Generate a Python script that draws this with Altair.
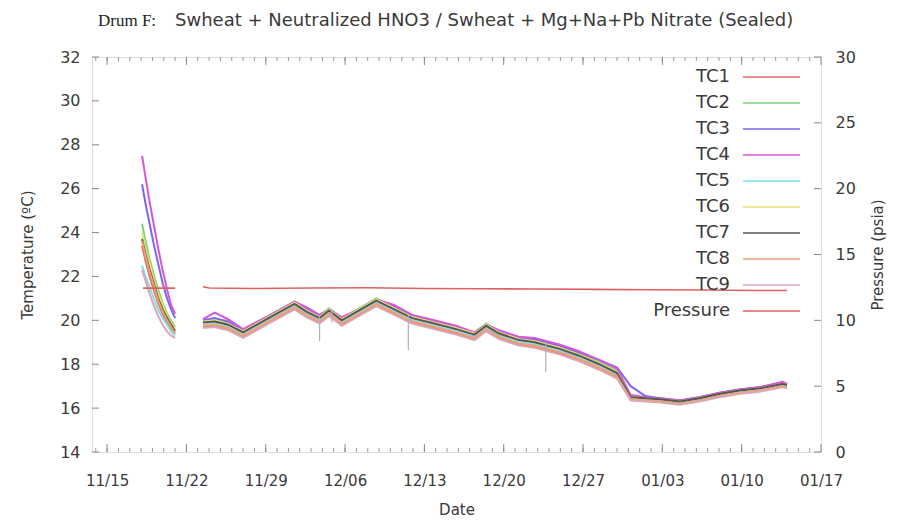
import altair as alt
import pandas as pd

# ---------------- data ----------------
series_names = ["TC1", "TC2", "TC3", "TC4", "TC5", "TC6", "TC7", "TC8", "TC9", "Pressure"]
series_colors = ["#e06666", "#7fcf7f", "#7b68ee", "#d855d8", "#7fe0e8",
                 "#e8e070", "#555555", "#f0a070", "#d8a8b8", "#e06060"]

seg1_dates = ["2014-11-18 02:00", "2014-11-18 09:30", "2014-11-18 18:00", "2014-11-19 02:30",
              "2014-11-19 12:00", "2014-11-19 21:30", "2014-11-20 07:00", "2014-11-20 15:30",
              "2014-11-21 00:00"]
seg1_values = {
    "TC1": [23.4, 22.7, 22.0, 21.4, 20.8, 20.3, 19.9, 19.6, 19.4],
    "TC2": [24.4, 23.6, 22.8, 22.1, 21.4, 20.8, 20.3, 20.0, 19.7],
    "TC3": [26.2, 25.3, 24.4, 23.5, 22.6, 21.7, 21.0, 20.5, 20.1],
    "TC4": [27.5, 26.5, 25.4, 24.4, 23.3, 22.3, 21.4, 20.7, 20.3],
    "TC5": [22.5, 22.0, 21.5, 21.0, 20.5, 20.1, 19.8, 19.5, 19.3],
    "TC6": [24.0, 23.3, 22.6, 21.9, 21.2, 20.7, 20.2, 19.9, 19.6],
    "TC7": [23.7, 23.0, 22.3, 21.7, 21.0, 20.5, 20.1, 19.8, 19.5],
    "TC8": [23.6, 22.9, 22.2, 21.6, 20.9, 20.4, 20.0, 19.7, 19.4],
    "TC9": [22.3, 21.8, 21.2, 20.7, 20.2, 19.8, 19.5, 19.3, 19.2],
}

seg2_dates = ["2014-11-23 11:00", "2014-11-24 12:00", "2014-11-25 16:00", "2014-11-27 00:00",
              "2014-11-29 06:00", "2014-12-01 13:00", "2014-12-02 14:00", "2014-12-03 18:00",
              "2014-12-04 14:00", "2014-12-05 17:00", "2014-12-07 06:00", "2014-12-08 18:00",
              "2014-12-10 08:00", "2014-12-11 22:00", "2014-12-13 12:00", "2014-12-15 19:00",
              "2014-12-17 10:00", "2014-12-18 11:00", "2014-12-19 14:00", "2014-12-21 08:00",
              "2014-12-22 17:00", "2014-12-24 22:00", "2014-12-26 14:00", "2014-12-28 10:00",
              "2014-12-30 00:00", "2014-12-31 05:00", "2015-01-01 12:00", "2015-01-02 19:00",
              "2015-01-04 13:00", "2015-01-06 07:00", "2015-01-08 02:00", "2015-01-09 20:00",
              "2015-01-11 14:00", "2015-01-13 14:00", "2015-01-14 00:00"]
seg2_values = {
    "TC1": [19.7, 19.75, 19.6, 19.25, 19.9, 20.55, 20.2, 19.9, 20.25, 19.8, 20.25, 20.7, 20.3, 19.9,
            19.7, 19.4, 19.15, 19.55, 19.2, 18.9, 18.8, 18.5, 18.2, 17.8, 17.4, 16.4, 16.35, 16.3,
            16.2, 16.35, 16.55, 16.7, 16.8, 17.0, 16.95],
    "TC2": [20.0, 20.05, 19.9, 19.55, 20.2, 20.85, 20.5, 20.2, 20.55, 20.1, 20.55, 21.0, 20.6, 20.2,
            20.0, 19.7, 19.45, 19.85, 19.5, 19.2, 19.1, 18.8, 18.5, 18.1, 17.7, 16.55, 16.5, 16.45,
            16.35, 16.5, 16.7, 16.85, 16.95, 17.15, 17.1],
    "TC3": [20.0, 20.1, 19.95, 19.55, 20.15, 20.8, 20.55, 20.2, 20.5, 20.1, 20.5, 20.95, 20.65, 20.2,
            20.0, 19.7, 19.4, 19.8, 19.5, 19.2, 19.15, 18.85, 18.55, 18.2, 17.85, 17.0, 16.55, 16.45,
            16.35, 16.5, 16.7, 16.85, 16.95, 17.15, 17.1],
    "TC4": [20.05, 20.35, 20.05, 19.6, 20.2, 20.85, 20.6, 20.25, 20.5, 20.15, 20.5, 20.95, 20.7, 20.25,
            20.05, 19.75, 19.45, 19.8, 19.55, 19.25, 19.2, 18.9, 18.6, 18.2, 17.8, 16.6, 16.5, 16.45,
            16.35, 16.5, 16.7, 16.85, 16.95, 17.2, 17.1],
    "TC5": [19.8, 19.85, 19.7, 19.35, 20.0, 20.65, 20.3, 20.0, 20.35, 19.9, 20.35, 20.8, 20.4, 20.0,
            19.8, 19.5, 19.25, 19.65, 19.3, 19.0, 18.9, 18.6, 18.3, 17.9, 17.5, 16.45, 16.4, 16.35,
            16.25, 16.4, 16.6, 16.75, 16.85, 17.05, 17.0],
    "TC6": [19.95, 20.0, 19.85, 19.5, 20.15, 20.8, 20.45, 20.15, 20.5, 20.05, 20.5, 20.95, 20.55, 20.15,
            19.95, 19.65, 19.4, 19.8, 19.45, 19.15, 19.05, 18.75, 18.45, 18.05, 17.65, 16.5, 16.45, 16.4,
            16.3, 16.45, 16.65, 16.8, 16.9, 17.1, 17.05],
    "TC7": [19.9, 19.95, 19.8, 19.45, 20.1, 20.75, 20.4, 20.1, 20.45, 20.0, 20.45, 20.9, 20.5, 20.1,
            19.9, 19.6, 19.35, 19.75, 19.4, 19.1, 19.0, 18.7, 18.4, 18.0, 17.6, 16.5, 16.45, 16.4,
            16.3, 16.45, 16.65, 16.8, 16.9, 17.1, 17.05],
    "TC8": [19.75, 19.8, 19.65, 19.3, 19.95, 20.6, 20.25, 19.95, 20.3, 19.85, 20.3, 20.75, 20.35, 19.95,
            19.75, 19.45, 19.2, 19.6, 19.25, 18.95, 18.85, 18.55, 18.25, 17.85, 17.45, 16.4, 16.35, 16.3,
            16.2, 16.35, 16.55, 16.7, 16.8, 17.0, 16.95],
    "TC9": [19.65, 19.7, 19.55, 19.2, 19.85, 20.5, 20.15, 19.85, 20.2, 19.75, 20.2, 20.65, 20.25, 19.85,
            19.65, 19.35, 19.1, 19.5, 19.15, 18.85, 18.75, 18.45, 18.15, 17.75, 17.35, 16.35, 16.3, 16.25,
            16.15, 16.3, 16.5, 16.65, 16.75, 16.95, 16.9],
}

spike_dates = ["2014-12-03 18:00", "2014-12-04 20:00", "2014-12-11 14:00", "2014-12-23 17:00"]
spike_top = [20.15, 20.45, 20.3, 19.0]
spike_bottom = [19.05, 19.9, 18.65, 17.65]

pres_seg1_dates = ["2014-11-18 04:00", "2014-11-19 12:00", "2014-11-21 00:00"]
pres_seg1_values = [12.45, 12.45, 12.45]
pres_seg2_dates = ["2014-11-23 11:00", "2014-11-24 00:00", "2014-11-28 00:00", "2014-12-03 00:00",
                   "2014-12-08 00:00", "2014-12-13 00:00", "2014-12-18 00:00", "2014-12-23 00:00",
                   "2014-12-28 00:00", "2015-01-02 00:00", "2015-01-07 00:00", "2015-01-11 00:00",
                   "2015-01-14 00:00"]
pres_seg2_values = [12.55, 12.45, 12.42, 12.45, 12.47, 12.42, 12.4, 12.38, 12.35, 12.32, 12.3, 12.27, 12.27]

temp_ticks = [14, 16, 18, 20, 22, 24, 26, 28, 30, 32]
pres_ticks = [0, 5, 10, 15, 20, 25, 30]
week_labels = ["2014-11-15", "2014-11-22", "2014-11-29", "2014-12-06", "2014-12-13",
               "2014-12-20", "2014-12-27", "2015-01-03", "2015-01-10", "2015-01-17"]
x_start = "2014-11-13 16:00"
x_end = "2015-01-17 00:00"

title_left = "Drum F:"
title_main = "Swheat + Neutralized HNO3 / Swheat + Mg+Na+Pb Nitrate (Sealed)"

# ---------------- tables ----------------
rows = []
for name in series_names[:9]:
    for d, v in zip(seg1_dates, seg1_values[name]):
        rows.append({"date": d, "value": v, "series": name, "seg": 1})
    for d, v in zip(seg2_dates, seg2_values[name]):
        rows.append({"date": d, "value": v, "series": name, "seg": 2})
temp_df = pd.DataFrame(rows)
temp_df["date"] = pd.to_datetime(temp_df["date"])

prow = []
for d, v in zip(pres_seg1_dates, pres_seg1_values):
    prow.append({"date": d, "value": v, "series": "Pressure", "seg": 1})
for d, v in zip(pres_seg2_dates, pres_seg2_values):
    prow.append({"date": d, "value": v, "series": "Pressure", "seg": 2})
pres_df = pd.DataFrame(prow)
pres_df["date"] = pd.to_datetime(pres_df["date"])

spike_df = pd.DataFrame({"date": pd.to_datetime(spike_dates), "top": spike_top, "bottom": spike_bottom})

def dt(s):
    t = pd.Timestamp(s)
    return alt.DateTime(year=t.year, month=t.month, date=t.day, hours=t.hour, minutes=t.minute)

W, H = 729, 395
FONT = "DejaVu Sans"
TXT = "#3a3a3a"

xscale = alt.Scale(domain=[dt(x_start), dt(x_end)])
color_scale = alt.Scale(domain=series_names, range=series_colors)

x_axis = alt.Axis(values=[dt(s) for s in week_labels], format="%m/%d", ticks=False, domain=False,
                  grid=False, labelFont=FONT, labelFontSize=15, labelColor=TXT, labelPadding=21,
                  labelFlush=False, title="Date", titleFont=FONT, titleFontSize=15,
                  titleFontWeight="normal", titleColor=TXT, titlePadding=14)
temp_axis = alt.Axis(values=temp_ticks, ticks=False, domain=False, grid=False, orient="left",
                     labelFont=FONT, labelFontSize=16, labelColor=TXT, labelPadding=12,
                     title="Temperature (ºC)", titleFont=FONT, titleFontSize=15,
                     titleFontWeight="normal", titleColor=TXT, titlePadding=24)
pres_axis = alt.Axis(values=pres_ticks, ticks=False, domain=False, grid=False, orient="right",
                     labelFont=FONT, labelFontSize=16, labelColor=TXT, labelPadding=14,
                     title="Pressure (psia)", titleFont=FONT, titleFontSize=15, titleAngle=270,
                     titleFontWeight="normal", titleColor=TXT, titlePadding=30)

temp_y = alt.Scale(domain=[14, 32], nice=False, zero=False)
pres_y = alt.Scale(domain=[0, 30], nice=False, zero=False)

temp_lines = alt.Chart(temp_df).mark_line(strokeWidth=2, clip=True).encode(
    x=alt.X("date:T", scale=xscale, axis=x_axis),
    y=alt.Y("value:Q", scale=temp_y, axis=temp_axis),
    color=alt.Color("series:N", scale=color_scale, legend=None),
    detail="seg:N",
)

spikes = alt.Chart(spike_df).mark_rule(color="#b8a8c0", strokeWidth=1.2).encode(
    x=alt.X("date:T", scale=xscale, axis=x_axis),
    y=alt.Y("top:Q", scale=temp_y, axis=temp_axis),
    y2="bottom:Q",
)

ttick_df = pd.DataFrame({"v": temp_ticks})
left_ticks = alt.Chart(ttick_df).mark_rule(color="#888", strokeWidth=1).encode(
    y=alt.Y("v:Q", scale=temp_y, axis=temp_axis), x=alt.value(0), x2=alt.value(7))

day_df = pd.DataFrame({"d": pd.date_range("2014-11-14", "2015-01-16", freq="D")})
week_df = pd.DataFrame({"d": pd.to_datetime(week_labels)})

def xrule(df, y0, y1, col):
    return alt.Chart(df).mark_rule(color=col, strokeWidth=1).encode(
        x=alt.X("d:T", scale=xscale, axis=x_axis), y=alt.value(y0), y2=alt.value(y1))

minor_bot = xrule(day_df, H, H - 4, "#999")
minor_top = xrule(day_df, 0, 4, "#999")
major_bot = xrule(week_df, H, H - 8, "#888")
major_top = xrule(week_df, 0, 8, "#888")

temp_group = alt.layer(temp_lines, spikes, left_ticks, minor_bot, minor_top, major_bot, major_top)

pres_line = alt.Chart(pres_df).mark_line(strokeWidth=1.6).encode(
    x=alt.X("date:T", scale=xscale, axis=x_axis),
    y=alt.Y("value:Q", scale=pres_y, axis=pres_axis),
    color=alt.Color("series:N", scale=color_scale, legend=None),
    detail="seg:N",
)
ptick_df = pd.DataFrame({"v": pres_ticks})
right_ticks = alt.Chart(ptick_df).mark_rule(color="#888", strokeWidth=1).encode(
    y=alt.Y("v:Q", scale=pres_y, axis=pres_axis), x=alt.value(W - 7), x2=alt.value(W))
pres_group = alt.layer(pres_line, right_ticks)

leg_df = pd.DataFrame({"series": series_names})
leg_y = alt.Y("series:N", scale=alt.Scale(type="point", domain=series_names, range=[20, 254], padding=0),
              axis=None)
leg_lines = alt.Chart(leg_df).mark_rule(strokeWidth=1.5).encode(
    y=leg_y, x=alt.value(651), x2=alt.value(708),
    color=alt.Color("series:N", scale=color_scale, legend=None))
leg_text = alt.Chart(leg_df).mark_text(align="right", baseline="middle", font=FONT, fontSize=18,
                                       color=TXT).encode(
    y=leg_y, x=alt.value(638), text="series:N")
legend_group = alt.layer(leg_lines, leg_text)

t1 = alt.Chart(pd.DataFrame({"t": [title_left]})).mark_text(
    align="left", baseline="middle", font="Liberation Serif", fontSize=17, color="#222").encode(
    text="t:N", x=alt.value(6), y=alt.value(-36))
t2 = alt.Chart(pd.DataFrame({"t": [title_main]})).mark_text(
    align="left", baseline="middle", font=FONT, fontSize=18, color=TXT).encode(
    text="t:N", x=alt.value(83), y=alt.value(-36))

chart = alt.layer(temp_group, pres_group, legend_group, t1, t2).resolve_scale(
    y="independent"
).properties(
    width=W, height=H,
    autosize=alt.AutoSizeParams(type="none"),
    padding={"left": 84, "top": 49, "right": 77, "bottom": 68},
).configure_view(stroke="#9a9a9a", strokeWidth=1).configure(background="white")

chart.save("out.html", embed_options={"renderer": "svg", "actions": False})
